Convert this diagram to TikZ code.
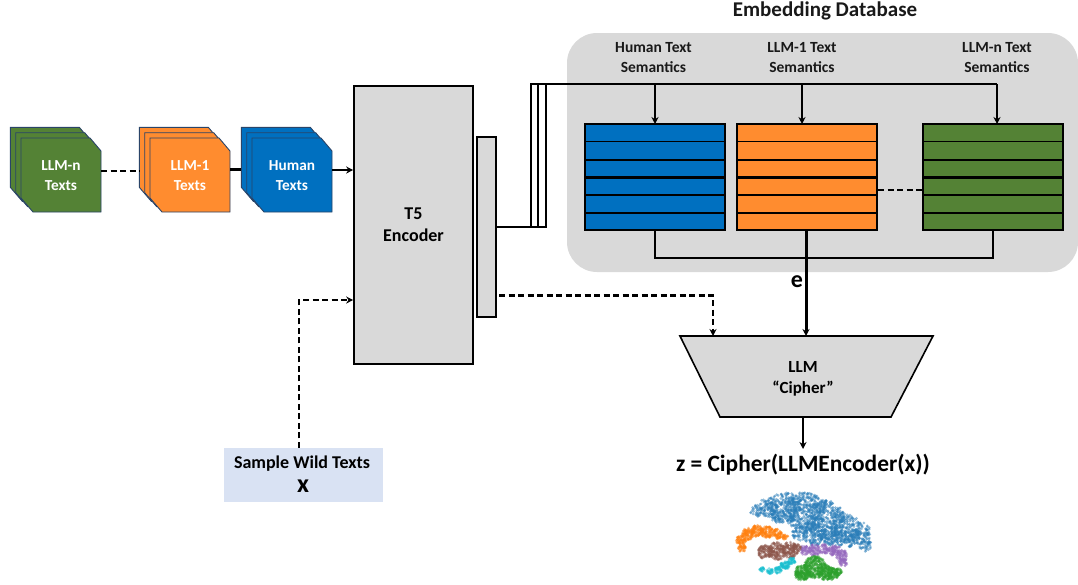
\documentclass[tikz,border=0pt]{standalone}
\usepackage{fontspec}
\setmainfont{Carlito}
\usetikzlibrary{arrows.meta,calc}
\definecolor{gblue}{HTML}{0070C0}
\definecolor{gorange}{HTML}{FF8C2F}
\definecolor{ggreen}{HTML}{548235}
\definecolor{ggray}{HTML}{D9D9D9}
\definecolor{gpale}{HTML}{D9E2F3}
\definecolor{gedge}{HTML}{2A4468}
\definecolor{sblue}{HTML}{2A7DB8}
\definecolor{sorange}{HTML}{FF7F0E}
\definecolor{spurple}{HTML}{9467BD}
\definecolor{sbrown}{HTML}{8C564B}
\definecolor{scyan}{HTML}{17BECF}
\definecolor{sgreen}{HTML}{2CA02C}
\tikzset{
  x=1pt,y=-1pt,
  graybox/.style={draw=black,line width=1.6pt,fill=ggray,inner sep=0pt,align=center,font=\bfseries\fontsize{18}{22}\selectfont},
  lab/.style={inner sep=0pt,align=center,font=\bfseries\fontsize{15.5}{20}\selectfont,text=black!90},
  doclab/.style={inner sep=0pt,align=center,text=white,font=\bfseries\fontsize{15.3}{20}\selectfont,minimum width=80pt,minimum height=74pt},
  sheet/.style={draw=gedge,line width=.9pt},
  link/.style={draw=black,line width=2.5pt},
  dlink/.style={draw=black,line width=2.5pt,dash pattern=on 6pt off 3.5pt},
  tip/.style={-{Stealth[length=7pt,width=7pt]}},
  tablebox/.style={draw=black,line width=2pt,inner sep=0pt,minimum width=140pt,minimum height=106pt},
}
% stack of three sheets: front sheet left edge #1, colour #2, node name #3, text #4
\newcommand{\docstack}[4]{%
  \foreach \d in {-10.6,-5.3,0}{%
    \path[sheet,fill=#2] ({#1+\d},{138+\d}) -- ({#1+69+\d},{138+\d}) -- ({#1+80+\d},{151+\d}) -- ({#1+80+\d},{212+\d}) -- ({#1+12+\d},{212+\d}) -- ({#1+\d},{198+\d}) -- cycle;
  }%
  \node[doclab] (#3) at ({#1+40},176) {#4};
  \coordinate (#3back) at ({#1-10.6},171);
}
% embedding table
\newcommand{\embtable}[3]{%
  \node[tablebox,fill=#2] (#3) at (#1,177) {};
  \foreach \r/\w in {141.5/1.8,160/1.8,177.5/2.6,195/1.8,213/1.8}{\draw[black,line width=\w pt] ($(#3.west)+(0,{\r-177})$) -- ($(#3.east)+(0,{\r-177})$);}
}
% point cloud: colour, dots per disc, list of discs cx/cy/r
\newcommand{\cloud}[3]{%
  \foreach \cx/\cy/\cr in {#3}{%
    \pgfmathtruncatemacro{\n}{max(6,#2*\cr*\cr)}
    \foreach \i in {1,...,\n}{%
      \pgfmathsetmacro{\ra}{\cr*sqrt(rnd)}
      \pgfmathsetmacro{\an}{360*rnd}
      \fill[#1,opacity=.5] ({\cx+\ra*cos(\an)},{\cy+\ra*sin(\an)}) circle (1.5pt);
    }%
  }}
\begin{document}
\begin{tikzpicture}
\useasboundingbox (0,0) rectangle (1078,584);
% database panel
\path[fill=ggray,rounded corners=30pt] (567,33) rectangle (1078,272);
\node[lab,font=\bfseries\fontsize{21}{24}\selectfont] (dbtitle) at (825,11) {Embedding Database};
\node[lab] (humsem) at (653.5,58) {Human Text\\Semantics};
\node[lab] (onesem) at (802,58) {LLM-1 Text\\Semantics};
\node[lab] (nsem) at (997,58) {LLM-n Text\\Semantics};
% stacks
\docstack{21}{ggreen}{llmn}{LLM-n\\Texts}
\docstack{150}{gorange}{llmone}{LLM-1\\Texts}
\docstack{252}{gblue}{human}{Human\\Texts}
% encoder
\node[graybox,minimum width=119pt,minimum height=278pt] (t5) at (413.5,225) {\raisebox{-1.5pt}{T5}\\\raisebox{-1.5pt}{Encoder}};
\node[graybox,line width=1.3pt,minimum width=19pt,minimum height=180pt] (proj) at (486.5,227) {};
% tables
\embtable{655}{gblue}{tabh}
\embtable{807}{gorange}{tabo}
\embtable{993}{ggreen}{tabn}
% cipher
\path[draw=black,line width=1.6pt,fill=ggray] (680,336) -- (933,336) -- (891,417) -- (720,417) -- cycle;
\node[inner sep=0pt,align=center,font=\bfseries\fontsize{17}{21.5}\selectfont] (cipher) at (803,379) {LLM\\“Cipher”};
\coordinate (ciphertopa) at (713,336);
\coordinate (ciphertopb) at (806,336);
\coordinate (cipherbot) at (803,417);
\coordinate (zin) at (803,449);
\node[inner sep=0pt,font=\bfseries\fontsize{23.4}{26}\selectfont] (zeq) at (803,465) {z = Cipher(LLMEncoder(x))};
\node[inner sep=0pt,font=\bfseries\fontsize{24}{26}\selectfont] (elab) at (797,282) {e};
% wild texts
\node[fill=gpale,inner sep=0pt,minimum width=159pt,minimum height=54pt] (wild) at (303.5,475) {};
\node[inner sep=0pt,font=\bfseries\fontsize{18}{20}\selectfont] (wildt) at (302,464) {Sample Wild Texts};
\node[inner sep=0pt,font=\bfseries\fontsize{26}{26}\selectfont] (wildx) at (303,486) {x};
% connectors
\draw[dlink] (llmn.east |- 0,171) -- (llmoneback);
\draw[link] (llmone.east |- 0,169.5) -- (humanback |- 0,169.5);
\draw[link,tip] (human.east |- 0,170) -- (t5.west |- 0,170);
\draw[dlink,tip] (wild.north -| 299,0) -- (299,300) -- (t5.west |- 0,300);
\draw[dlink,tip] (499,295.5) -- (713,295.5) -- (ciphertopa);
\coordinate (fanA) at (531,84);
\coordinate (fanB) at (538,84);
\coordinate (fanC) at (545.5,84);
\draw[draw=black,line width=1.2pt] (proj.east) -- (fanA |- proj.east) -- (fanA) -- (655,84);
\draw[draw=black,line width=1.6pt] (proj.east) -- (fanB |- proj.east) -- (fanB) -- (802,84);
\draw[draw=black,line width=2pt] (proj.east) -- (fanC |- proj.east) -- (fanC) -- (997,84);
\draw[link,line width=2.8pt] (proj.east) -- (531,227);
\draw[link,line width=2.8pt] (538,84) -- (997,84);
\draw[link,tip] (655,84) -- (655,124);
\draw[link,tip] (802,84) -- (802,124);
\draw[link,tip] (997,84) -- (997,124);
\draw[dlink] (tabo.east |- 0,190) -- (tabn.west |- 0,190);
\draw[link] (655,230) -- (655,258) -- (993,258) -- (993,230);
\draw[link,line width=3pt,tip] (806,230) -- (ciphertopb);
\draw[link,tip] (cipherbot) -- (zin);
% scatter
\pgfmathsetseed{7}
\cloud{sblue}{1.0}{756/511/6,768/507/10,785/508/16,805/512/20,825/520/20,845/528/15,860/533/11,865/545/7,815/535/11,800/533/8,838/538/8,778/516/7,850/541/6,828/538/8}
\cloud{sorange}{2.5}{742/548/4,741/540/5,748/534/6,757/531/6,767/532/6,777/534/5,785/537/3}
\cloud{spurple}{2}{805/550/5,815/550/6,825/549/5,835/551/6,842/556/6,843/563/4}
\cloud{sbrown}{2}{765/552/7,777/551/9,790/550/8,797/548/4}
\cloud{scyan}{3}{762/569/2.5,770/571/3,778/570/3.5,785/565/4.5,792/561/3.5}
\cloud{sgreen}{2.2}{803/572/8,815/567/11,825/572/8,833/574/6,838/572/4,800/575/5}
\end{tikzpicture}
\end{document}
